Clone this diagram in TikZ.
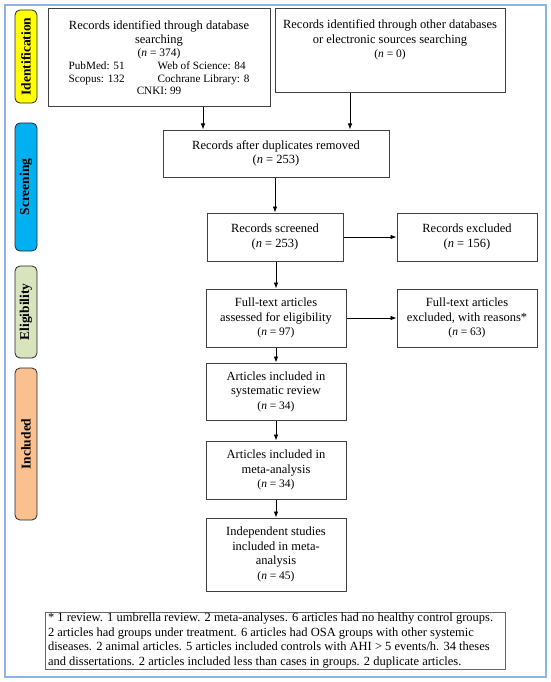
\documentclass[tikz,border=0pt]{standalone}
\usepackage{fontspec}
\setmainfont{Liberation Serif}
\usetikzlibrary{arrows.meta,calc}
\definecolor{framec}{RGB}{141,180,226}
\definecolor{idc}{RGB}{255,255,0}
\definecolor{scrc}{RGB}{0,176,240}
\definecolor{elic}{RGB}{215,228,189}
\definecolor{incc}{RGB}{250,192,144}
\definecolor{boxc}{RGB}{64,64,64}
\newcommand{\nsz}{\fontsize{11.5}{13}\selectfont}
\begin{document}
\begin{tikzpicture}[x=1pt,y=-1pt,
  box/.style={draw=boxc, line width=1pt, fill=white, inner sep=0pt, align=center, font=\fontsize{12.5}{14.5}\selectfont},
  arr/.style={-{Latex[length=6pt,width=4.5pt]}, line width=0.8pt, draw=black},
  phase/.style={draw=black!85, line width=0.8pt, rounded corners=5pt, inner sep=0pt, rotate=90, font=\bfseries\fontsize{13.5}{16}\selectfont, minimum height=22pt}]
\useasboundingbox (0,0) rectangle (550,682);
\node[draw=framec, line width=1.5pt, minimum width=541pt, minimum height=672pt, inner sep=0pt] (frame) at (275.5,341) {};

% phase labels
\node[phase, fill=idc, minimum width=93pt] (pid) at (26,56.5) {Identification};
\node[phase, fill=scrc, minimum width=128pt] (pscr) at (26,187) {Screening};
\node[phase, fill=elic, minimum width=92pt] (peli) at (26,312) {Eligibility};
\node[phase, fill=incc, minimum width=152pt] (pinc) at (26,444) {Included};

% boxes
\node[box, minimum width=222pt, minimum height=98pt, font=\fontsize{12.5}{13.5}\selectfont] (b1) at (159,58) {Records identified through database\\ searching\\ {\nsz(\textit{n} = 374)}\\
{\fontsize{11.2}{13}\selectfont\begin{tabular}{@{}l@{\hspace{33pt}}l@{}}PubMed: 51 & Web of Science: 84\\ Scopus: 132 & Cochrane Library: 8\end{tabular}}\\
{\fontsize{11.2}{13}\selectfont CNKI: 99}};
\node[box, minimum width=230pt, minimum height=84pt] (b2) at (390,51) {\parbox[c][80pt][t]{226pt}{\centering\vspace*{9pt}Records identified through other databases\\ or electronic sources searching\\ {\nsz(\textit{n} = 0)}}};
\node[box, minimum width=226pt, minimum height=47pt] (b3) at (276,153.5) {Records after duplicates removed\\ (\textit{n} = 253)};
\node[box, minimum width=136pt, minimum height=48pt] (b4) at (275,237) {Records screened\\ (\textit{n} = 253)};
\node[box, minimum width=140pt, minimum height=48pt] (b5) at (467,237) {Records excluded\\ (\textit{n} = 156)};
\node[box, minimum width=140pt, minimum height=58pt] (b6) at (276,318) {Full-text articles\\ assessed for eligibility\\ {\nsz(\textit{n} = 97)}};
\node[box, minimum width=140pt, minimum height=58pt] (b7) at (467,318) {Full-text articles\\ excluded, with reasons*\\ {\nsz(\textit{n} = 63)}};
\node[box, minimum width=140pt, minimum height=57pt] (b8) at (276,391.5) {Articles included in\\ systematic review\\ {\nsz(\textit{n} = 34)}};
\node[box, minimum width=140pt, minimum height=58pt] (b9) at (276,470) {Articles included in\\ meta-analysis\\ {\nsz(\textit{n} = 34)}};
\node[box, minimum width=140pt, minimum height=73pt] (b10) at (276,554.5) {Independent studies\\ included in meta-\\ analysis\\ {\nsz(\textit{n} = 45)}};
\node[box, draw=boxc!80, line width=0.8pt, minimum width=460pt, minimum height=57pt] (fn) at (275,640.5) {\parbox{454pt}{\raggedright\fontsize{12.5}{14.4}\selectfont * 1 review. 1 umbrella review. 2 meta-analyses. 6 articles had no healthy control groups.\\ 2 articles had groups under treatment. 6 articles had OSA groups with other systemic\\ diseases. 2 animal articles. 5 articles included controls with AHI > 5 events/h. 34 theses\\ and dissertations. 2 articles included less than cases in groups. 2 duplicate articles.}};

% connectors
\coordinate (c1) at (203,0);
\coordinate (c2) at (350,0);
\draw[arr] (b1.south -| c1) -- (b3.north -| c1);
\draw[arr] (b2.south -| c2) -- (b3.north -| c2);
\draw[arr] (b3.south -| b4.north) -- (b4.north);
\draw[arr] (b4.east) -- (b5.west);
\draw[arr] (b4.south -| b6.north) -- (b6.north);
\draw[arr] (b6.east) -- (b7.west);
\draw[arr] (b6.south) -- (b8.north);
\draw[arr] (b8.south) -- (b9.north);
\draw[arr] (b9.south) -- (b10.north);
\end{tikzpicture}
\end{document}
